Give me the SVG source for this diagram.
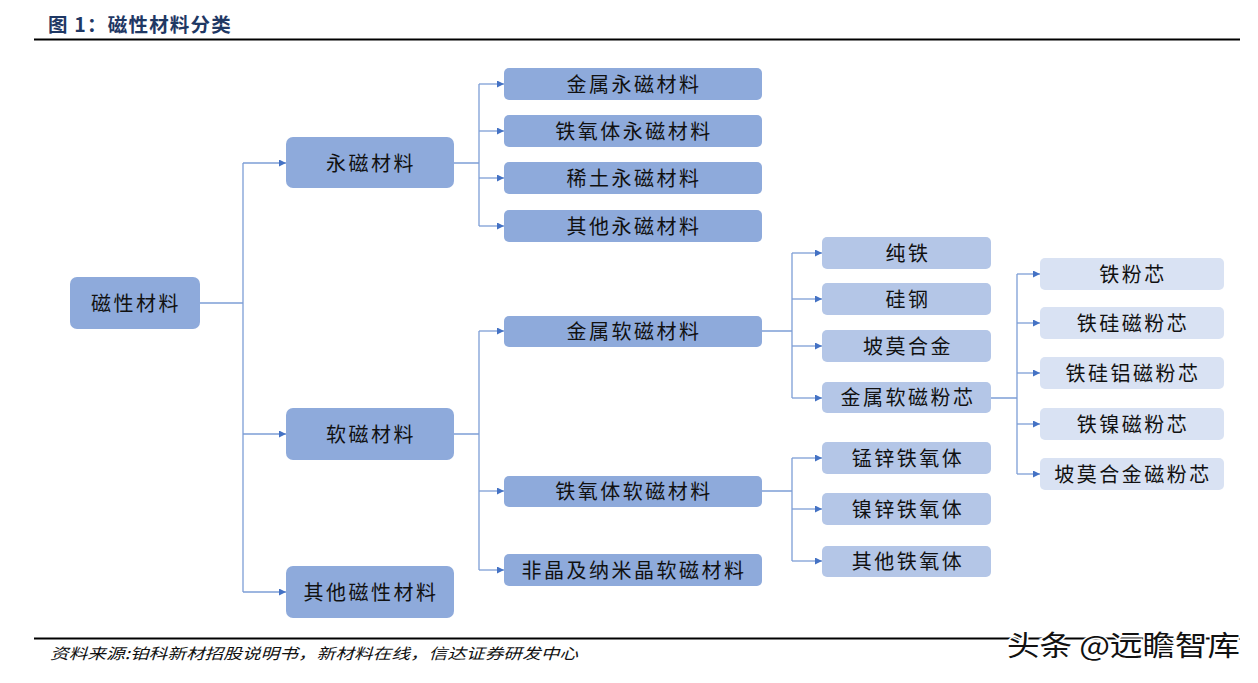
<svg xmlns="http://www.w3.org/2000/svg" width="1258" height="683" viewBox="0 0 1258 683">
<defs>
<marker id="arr" markerUnits="userSpaceOnUse" markerWidth="8" markerHeight="8" refX="7" refY="3.5" orient="auto">
<path d="M0,0 L7,3.5 L0,7 z" fill="#4472c4"/>
</marker>
<style>
.n0 { fill: #8eaadb; }
.n3 { fill: #b4c6e7; }
.n4 { fill: #d9e2f3; }
.t { font-family: "Noto Sans CJK SC", "Noto Sans", sans-serif; font-size: 20px; letter-spacing: 2.5px; fill: #111; text-anchor: middle; }
.c { fill: none; stroke: #7d9ed6; stroke-width: 1.3; }
.a { marker-end: url(#arr); }
</style>
</defs>
<rect width="1258" height="683" fill="#ffffff"/>
<g id="title">
<text x="48" y="32" font-family="Noto Sans CJK SC, sans-serif" font-size="19.5" font-weight="bold" fill="#1f3864" letter-spacing="1.2">图 1：磁性材料分类</text>
<line x1="34" y1="39.5" x2="1240" y2="39.5" stroke="#000" stroke-width="2"/>
</g>
<g id="connectors">
<path class="c" d="M200,303 H243 M243,163 V592"/>
<path class="c a" d="M243,163 H286"/>
<path class="c a" d="M243,434 H286"/>
<path class="c a" d="M243,592 H286"/>
<path class="c" d="M454,163 H479 M479,84 V226"/>
<path class="c a" d="M479,84 H504"/>
<path class="c a" d="M479,131 H504"/>
<path class="c a" d="M479,178 H504"/>
<path class="c a" d="M479,226 H504"/>
<path class="c" d="M454,434 H479 M479,331 V570"/>
<path class="c a" d="M479,331 H504"/>
<path class="c a" d="M479,491 H504"/>
<path class="c a" d="M479,570 H504"/>
<path class="c" d="M762,331 H792 M792,253 V398"/>
<path class="c a" d="M792,253 H822"/>
<path class="c a" d="M792,299 H822"/>
<path class="c a" d="M792,346 H822"/>
<path class="c a" d="M792,398 H822"/>
<path class="c" d="M762,491 H792 M792,458 V561"/>
<path class="c a" d="M792,458 H822"/>
<path class="c a" d="M792,509 H822"/>
<path class="c a" d="M792,561 H822"/>
<path class="c" d="M991,398 H1017 M1017,274 V474"/>
<path class="c a" d="M1017,274 H1040"/>
<path class="c a" d="M1017,323 H1040"/>
<path class="c a" d="M1017,373 H1040"/>
<path class="c a" d="M1017,424 H1040"/>
<path class="c a" d="M1017,474 H1040"/>
</g>
<g id="n-root"><rect class="n0" x="70" y="277" width="130" height="52" rx="7"/><text class="t" x="136" y="311">磁性材料</text></g>
<g id="n-perm"><rect class="n0" x="286" y="137" width="168" height="51" rx="7"/><text class="t" x="371" y="171">永磁材料</text></g>
<g id="n-soft"><rect class="n0" x="286" y="408" width="168" height="52" rx="7"/><text class="t" x="371" y="442">软磁材料</text></g>
<g id="n-other"><rect class="n0" x="286" y="566" width="168" height="52" rx="7"/><text class="t" x="371" y="600">其他磁性材料</text></g>

<g id="n-p1"><rect class="n0" x="504" y="68" width="258" height="32" rx="5"/><text class="t" x="634" y="92">金属永磁材料</text></g>
<g id="n-p2"><rect class="n0" x="504" y="115" width="258" height="32" rx="5"/><text class="t" x="634" y="139">铁氧体永磁材料</text></g>
<g id="n-p3"><rect class="n0" x="504" y="162" width="258" height="32" rx="5"/><text class="t" x="634" y="186">稀土永磁材料</text></g>
<g id="n-p4"><rect class="n0" x="504" y="210" width="258" height="32" rx="5"/><text class="t" x="634" y="234">其他永磁材料</text></g>

<g id="n-s1"><rect class="n0" x="504" y="316" width="258" height="31" rx="5"/><text class="t" x="634" y="339">金属软磁材料</text></g>
<g id="n-s2"><rect class="n0" x="504" y="476" width="258" height="31" rx="5"/><text class="t" x="634" y="499">铁氧体软磁材料</text></g>
<g id="n-s3"><rect class="n0" x="504" y="554" width="258" height="32" rx="5"/><text class="t" x="634" y="578">非晶及纳米晶软磁材料</text></g>

<g id="n-m1"><rect class="n3" x="822" y="237" width="169" height="32" rx="5"/><text class="t" x="908" y="261">纯铁</text></g>
<g id="n-m2"><rect class="n3" x="822" y="283" width="169" height="32" rx="5"/><text class="t" x="908" y="307">硅钢</text></g>
<g id="n-m3"><rect class="n3" x="822" y="330" width="169" height="32" rx="5"/><text class="t" x="908" y="354">坡莫合金</text></g>
<g id="n-m4"><rect class="n3" x="822" y="382" width="169" height="31" rx="5"/><text class="t" x="908" y="405">金属软磁粉芯</text></g>

<g id="n-f1"><rect class="n3" x="822" y="442" width="169" height="32" rx="5"/><text class="t" x="908" y="466">锰锌铁氧体</text></g>
<g id="n-f2"><rect class="n3" x="822" y="493" width="169" height="32" rx="5"/><text class="t" x="908" y="517">镍锌铁氧体</text></g>
<g id="n-f3"><rect class="n3" x="822" y="546" width="169" height="31" rx="5"/><text class="t" x="908" y="569">其他铁氧体</text></g>

<g id="n-c1"><rect class="n4" x="1040" y="258" width="184" height="32" rx="5"/><text class="t" x="1133" y="282">铁粉芯</text></g>
<g id="n-c2"><rect class="n4" x="1040" y="307" width="184" height="32" rx="5"/><text class="t" x="1133" y="331">铁硅磁粉芯</text></g>
<g id="n-c3"><rect class="n4" x="1040" y="357" width="184" height="32" rx="5"/><text class="t" x="1133" y="381">铁硅铝磁粉芯</text></g>
<g id="n-c4"><rect class="n4" x="1040" y="408" width="184" height="32" rx="5"/><text class="t" x="1133" y="432">铁镍磁粉芯</text></g>
<g id="n-c5"><rect class="n4" x="1040" y="458" width="184" height="32" rx="5"/><text class="t" x="1133" y="482">坡莫合金磁粉芯</text></g>

<g id="footer">
<line x1="34" y1="638.5" x2="1240" y2="638.5" stroke="#000" stroke-width="2"/>
<text x="50" y="659" font-family="Noto Sans CJK SC, sans-serif" font-size="15" font-style="italic" fill="#111" textLength="528" lengthAdjust="spacingAndGlyphs">资料来源:铂科新材招股说明书，新材料在线，信达证券研发中心</text>
<text x="1007" y="656" font-family="Noto Sans CJK SC, sans-serif" font-size="28" fill="#111" stroke="#fff" stroke-width="3" paint-order="stroke" textLength="233" lengthAdjust="spacingAndGlyphs">头条 @远瞻智库</text>
</g>
</svg>
